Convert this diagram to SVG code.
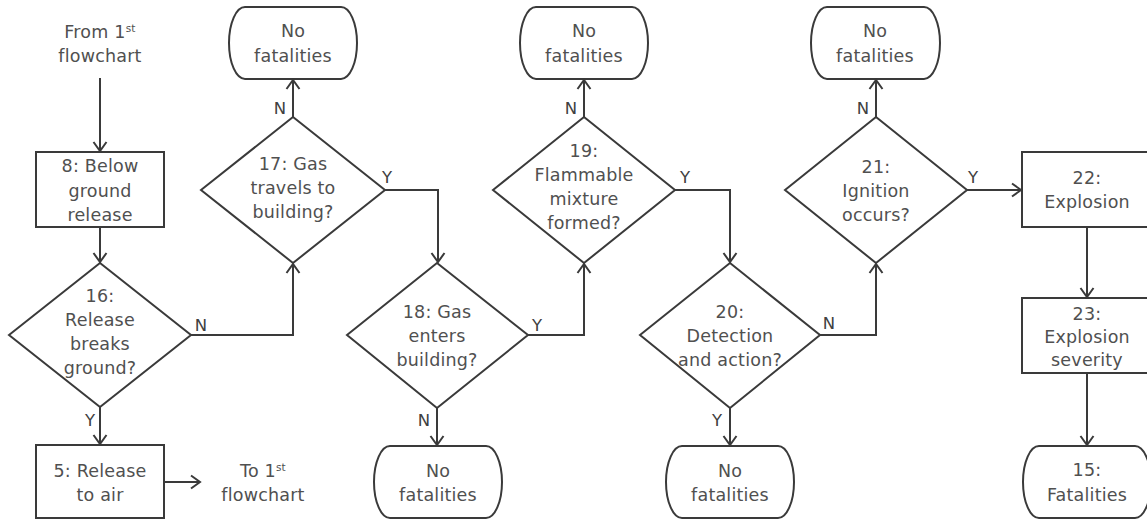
<svg xmlns="http://www.w3.org/2000/svg" width="1147" height="519" viewBox="0 0 1147 519">
<defs>
<marker id="arr" markerWidth="20" markerHeight="20" refX="0" refY="0" viewBox="-12 -10 14 20" markerUnits="userSpaceOnUse" orient="auto" overflow="visible">
<path d="M-9,-6.5 L0,0 L-9,6.5" fill="none" stroke="#3a3a3a" stroke-width="2"/>
</marker>
<style>
.s{fill:#fff;stroke:#3a3a3a;stroke-width:2}
.t{font-family:"DejaVu Sans",Verdana,sans-serif;font-size:17.5px;letter-spacing:0.2px;fill:#505050;text-anchor:middle}
.l{font-family:"DejaVu Sans",Verdana,sans-serif;font-size:16.5px;fill:#404040;text-anchor:middle}
.c{fill:none;stroke:#3a3a3a;stroke-width:2;marker-end:url(#arr)}
.sup{font-size:10.5px}
</style>
</defs>
<rect width="1147" height="519" fill="#fff"/>

<g id="from1">
<text class="t" x="100" y="38">From 1<tspan class="sup" dy="-6">st</tspan></text>
<text class="t" x="100" y="62">flowchart</text>
</g>

<g id="n8">
<rect class="s" x="36" y="152" width="128" height="75"/>
<text class="t" x="100" y="172">8: Below</text>
<text class="t" x="100" y="197">ground</text>
<text class="t" x="100" y="221">release</text>
</g>

<g id="n16">
<polygon class="s" points="9,335 100,263 191,335 100,407"/>
<text class="t" x="100" y="302">16:</text>
<text class="t" x="100" y="326">Release</text>
<text class="t" x="100" y="350">breaks</text>
<text class="t" x="100" y="374">ground?</text>
</g>

<g id="n5">
<rect class="s" x="36" y="445" width="128" height="73"/>
<text class="t" x="100" y="477">5: Release</text>
<text class="t" x="100" y="501">to air</text>
</g>

<g id="to1">
<text class="t" x="263" y="477">To 1<tspan class="sup" dy="-6">st</tspan></text>
<text class="t" x="263" y="501">flowchart</text>
</g>

<g id="n17">
<polygon class="s" points="201,190 293,117 385,190 293,263"/>
<text class="t" x="293" y="170">17: Gas</text>
<text class="t" x="293" y="194">travels to</text>
<text class="t" x="293" y="218">building?</text>
</g>

<g id="nf17">
<rect class="s" x="229" y="7" width="128" height="72" rx="16" ry="36"/>
<text class="t" x="293" y="37">No</text>
<text class="t" x="293" y="62">fatalities</text>
</g>

<g id="n18">
<polygon class="s" points="347,335 437,263 528,335 437,408"/>
<text class="t" x="437" y="318">18: Gas</text>
<text class="t" x="437" y="342">enters</text>
<text class="t" x="437" y="366">building?</text>
</g>

<g id="nf18">
<rect class="s" x="374" y="446" width="128" height="72" rx="16" ry="36"/>
<text class="t" x="438" y="477">No</text>
<text class="t" x="438" y="501">fatalities</text>
</g>

<g id="n19">
<polygon class="s" points="493,190 584,117 675,190 584,263"/>
<text class="t" x="584" y="157">19:</text>
<text class="t" x="584" y="181">Flammable</text>
<text class="t" x="584" y="205">mixture</text>
<text class="t" x="584" y="229">formed?</text>
</g>

<g id="nf19">
<rect class="s" x="520" y="7" width="128" height="72" rx="16" ry="36"/>
<text class="t" x="584" y="37">No</text>
<text class="t" x="584" y="62">fatalities</text>
</g>

<g id="n20">
<polygon class="s" points="640,335 730,263 820,335 730,408"/>
<text class="t" x="730" y="318">20:</text>
<text class="t" x="730" y="342">Detection</text>
<text class="t" x="730" y="366">and action?</text>
</g>

<g id="nf20">
<rect class="s" x="666" y="446" width="128" height="72" rx="16" ry="36"/>
<text class="t" x="730" y="477">No</text>
<text class="t" x="730" y="501">fatalities</text>
</g>

<g id="n21">
<polygon class="s" points="785,190 876,117 967,190 876,263"/>
<text class="t" x="876" y="173">21:</text>
<text class="t" x="876" y="197">Ignition</text>
<text class="t" x="876" y="221">occurs?</text>
</g>

<g id="nf21">
<rect class="s" x="811" y="7" width="129" height="72" rx="16" ry="36"/>
<text class="t" x="875" y="37">No</text>
<text class="t" x="875" y="62">fatalities</text>
</g>

<g id="n22">
<rect class="s" x="1022" y="152" width="132" height="75"/>
<text class="t" x="1087" y="184">22:</text>
<text class="t" x="1087" y="208">Explosion</text>
</g>

<g id="n23">
<rect class="s" x="1022" y="298" width="132" height="75"/>
<text class="t" x="1087" y="320">23:</text>
<text class="t" x="1087" y="343">Explosion</text>
<text class="t" x="1087" y="366">severity</text>
</g>

<g id="n15">
<rect class="s" x="1023" y="446" width="128" height="72" rx="16" ry="36"/>
<text class="t" x="1087" y="476">15:</text>
<text class="t" x="1087" y="501">Fatalities</text>
</g>

<g id="connectors">
<path class="c" d="M100,78 L100,151"/>
<path class="c" d="M100,228 L100,262"/>
<path class="c" d="M100,407 L100,444"/>
<path class="c" d="M164,482 L200,482"/>
<path class="c" d="M191,335 L293,335 L293,264"/>
<path class="c" d="M293,117 L293,80"/>
<path class="c" d="M385,190 L438,190 L438,262"/>
<path class="c" d="M437,408 L437,445"/>
<path class="c" d="M528,335 L584,335 L584,264"/>
<path class="c" d="M584,117 L584,80"/>
<path class="c" d="M675,190 L730,190 L730,262"/>
<path class="c" d="M730,408 L730,445"/>
<path class="c" d="M820,335 L876,335 L876,264"/>
<path class="c" d="M876,117 L876,80"/>
<path class="c" d="M967,190 L1021,190"/>
<path class="c" d="M1087,227 L1087,297"/>
<path class="c" d="M1087,373 L1087,445"/>
</g>

<g id="labels">
<text class="l" x="280" y="114">N</text>
<text class="l" x="201" y="331">N</text>
<text class="l" x="90" y="426">Y</text>
<text class="l" x="387" y="183">Y</text>
<text class="l" x="537" y="331">Y</text>
<text class="l" x="424" y="426">N</text>
<text class="l" x="571" y="114">N</text>
<text class="l" x="685" y="183">Y</text>
<text class="l" x="717" y="426">Y</text>
<text class="l" x="829" y="329">N</text>
<text class="l" x="863" y="114">N</text>
<text class="l" x="973" y="183">Y</text>
</g>
</svg>
